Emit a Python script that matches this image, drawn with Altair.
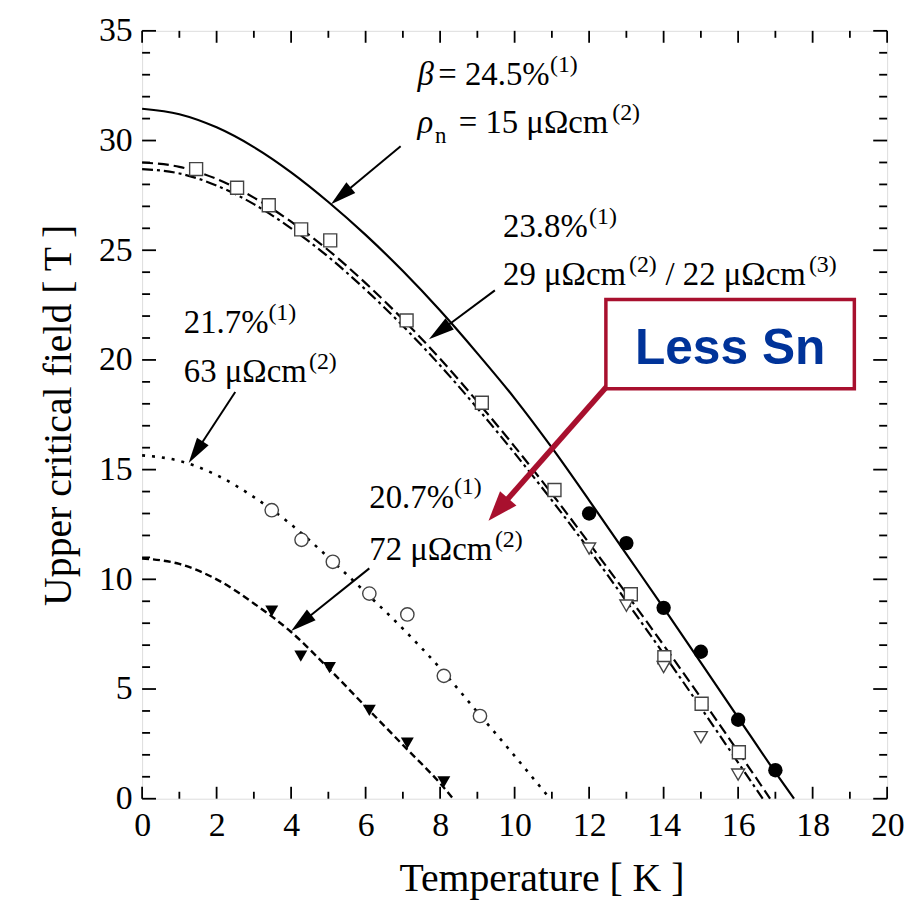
import math
import altair as alt
import pandas as pd

# ---------------- data ----------------
# fitted curves (Temperature K, Upper critical field T)
T_solid = [0, 1, 2, 3, 4, 5, 6, 7, 8, 9, 10, 11, 12, 13, 14, 15, 16, 17, 17.5]
H_solid = [31.45, 31.2, 30.6, 29.7, 28.55, 27.2, 25.7, 24.05, 22.25, 20.3, 18.25, 16.0, 13.6, 11.15, 8.7, 6.2, 3.7, 1.2, 0.0]

T_dash = [0, 1, 2, 3, 4, 5, 6, 7, 8, 9, 10, 11, 12, 13, 14, 15, 16, 16.86]
H_dash = [29.0, 28.8, 28.25, 27.4, 26.3, 25.0, 23.5, 21.85, 20.05, 18.1, 16.05, 13.9, 11.65, 9.35, 7.0, 4.6, 2.15, 0.0]

T_dashdot = [0, 1, 2, 3, 4, 5, 6, 7, 8, 9, 10, 11, 12, 13, 14, 15, 16, 16.66]
H_dashdot = [28.7, 28.5, 27.95, 27.1, 26.0, 24.7, 23.2, 21.55, 19.75, 17.8, 15.75, 13.6, 11.35, 9.0, 6.6, 4.15, 1.65, 0.0]

T_dot = [0, 1, 2, 3, 4, 5, 6, 7, 8, 9, 10, 10.95]
H_dot = [15.65, 15.4, 14.75, 13.75, 12.5, 11.0, 9.4, 7.75, 5.95, 3.95, 1.95, 0.0]

T_short = [0, 1, 2, 3, 4, 5, 6, 7, 8, 8.35]
H_short = [10.95, 10.7, 10.0, 8.9, 7.6, 5.95, 4.2, 2.45, 0.7, 0.0]

# measured points
T_fcirc = [12, 13, 14, 15, 16, 17]
H_fcirc = [13.0, 11.65, 8.7, 6.7, 3.6, 1.3]

T_otri = [12, 13, 14, 15, 16]
H_otri = [11.4, 8.8, 6.0, 2.8, 1.1]

T_osq = [1.45, 2.55, 3.4, 4.27, 5.05, 7.1, 9.12, 11.07, 13.12, 14.02, 15.02, 16.02]
H_osq = [28.7, 27.85, 27.05, 25.95, 25.45, 21.8, 18.05, 14.07, 9.32, 6.45, 4.33, 2.12]

T_ocirc = [3.48, 4.28, 5.12, 6.1, 7.12, 8.1, 9.07]
H_ocirc = [13.15, 11.8, 10.8, 9.35, 8.4, 5.6, 3.77]

T_ftri = [3.48, 4.26, 5.03, 6.1, 7.12, 8.1]
H_ftri = [8.55, 6.5, 5.98, 4.03, 2.53, 0.77]

# annotation arrows: tail (T, H) -> tip (T, H)
arrow_tail_T = [6.94, 9.47, 2.5, 6.1]
arrow_tail_H = [29.74, 23.17, 18.54, 10.5]
arrow_tip_T = [5.07, 7.7, 1.25, 4.0]
arrow_tip_H = [27.1, 20.94, 15.3, 7.64]

red_tail_T = [12.5]
red_tail_H = [18.84]
red_tip_T = [9.3]
red_tip_H = [12.67]

# "Less Sn" box
box_T = [12.45, 19.12]
box_H = [18.69, 22.75]

# text annotations
main_text = ["= 24.5%", "= 15 μΩcm", "23.8%", "29 μΩcm", "/ 22 μΩcm",
             "21.7%", "63 μΩcm", "20.7%", "72 μΩcm"]
main_T = [7.95, 8.5, 9.69, 9.69, 14.05, 1.12, 1.12, 6.1, 6.1]
main_H = [32.52, 30.34, 25.6, 23.42, 23.42, 21.24, 18.99, 13.27, 10.87]

greek_text = ["β", "ρ"]
greek_T = [7.39, 7.39]
greek_H = [32.52, 30.34]

sub_text = ["n"]
sub_T = [7.86]
sub_H = [29.9]

sup_text = ["(1)", "(2)", "(1)", "(2)", "(3)", "(1)", "(2)", "(1)", "(2)"]
sup_T = [10.95, 12.62, 12.0, 13.07, 17.9, 3.39, 4.48, 8.37, 9.47]
sup_H = [33.12, 30.94, 26.2, 24.02, 24.02, 21.84, 19.59, 13.87, 11.47]

x_major = list(range(0, 21, 2))
x_minor = list(range(1, 20, 2))
y_major = list(range(0, 36, 5))
y_minor = [v for v in range(0, 36) if v % 5]

# ---------------- chart ----------------
W, H = 750, 773
XMAX, YMAX = 20.0, 35.0
pxT, pxH = W / XMAX, H / YMAX
SERIF = "Liberation Serif"
RED = "#a8102e"

xs = alt.Scale(domain=[0, XMAX], nice=False, zero=False)
ys = alt.Scale(domain=[0, YMAX], nice=False, zero=False)

x_axis = alt.Axis(values=x_major, title="Temperature [ K ]", ticks=False, domain=False,
                  grid=False, labelFlush=False, labelFont=SERIF, labelFontSize=34,
                  labelColor="black", labelPadding=10, titleFont=SERIF,
                  titleFontSize=40, titleFontWeight="normal", titleColor="black",
                  titlePadding=16, titleX=402)
y_axis = alt.Axis(values=y_major, title="Upper critical field [ T ]", ticks=False,
                  domain=False, grid=False, labelFlush=False, labelFont=SERIF,
                  labelFontSize=34, labelColor="black", labelPadding=10,
                  titleFont=SERIF, titleFontSize=40, titleFontWeight="normal",
                  titleColor="black", titlePadding=20)


def X(f):
    return alt.X(f, type="quantitative", scale=xs, axis=x_axis)


def Y(f):
    return alt.Y(f, type="quantitative", scale=ys, axis=y_axis)


def curve(T, Hv, dash=None, width=2.2):
    df = pd.DataFrame({"T": T, "H": Hv})
    kw = dict(color="black", strokeWidth=width, interpolate="monotone")
    if dash:
        kw["strokeDash"] = dash
    return alt.Chart(df).mark_line(**kw).encode(x=X("T"), y=Y("H"))


layers = [
    curve(T_solid, H_solid),
    curve(T_dash, H_dash, [11, 5]),
    curve(T_dashdot, H_dashdot, [11, 4, 3, 4]),
    curve(T_dot, H_dot, [3, 7], width=2.6),
    curve(T_short, H_short, [7, 4], width=2.4),
]


# ticks (inward)
def tick_rules(vals, axis, length):
    df = pd.DataFrame({"v": vals})
    c = alt.Chart(df).mark_rule(color="black", strokeWidth=1.8)
    if axis == "bottom":
        return c.encode(x=X("v"), y=alt.value(H), y2=alt.value(H - length))
    if axis == "top":
        return c.encode(x=X("v"), y=alt.value(0), y2=alt.value(length))
    if axis == "left":
        return c.encode(y=Y("v"), x=alt.value(0), x2=alt.value(length))
    return c.encode(y=Y("v"), x=alt.value(W), x2=alt.value(W - length))


for side in ["bottom", "top"]:
    layers.append(tick_rules(x_major, side, 12))
    layers.append(tick_rules(x_minor, side, 7))
for side in ["left", "right"]:
    layers.append(tick_rules(y_major, side, 14))
    layers.append(tick_rules(y_minor, side, 8))


# markers
def pts(T, Hv, shape, size, filled, stroke="#444"):
    df = pd.DataFrame({"T": T, "H": Hv})
    if filled:
        m = alt.Chart(df).mark_point(shape=shape, size=size, filled=True, color="black", opacity=1)
    else:
        m = alt.Chart(df).mark_point(shape=shape, size=size, filled=True, fill="white",
                                     stroke=stroke, strokeWidth=1.4, opacity=1)
    return m.encode(x=X("T"), y=Y("H"))


layers += [
    pts(T_osq, H_osq, "square", 170, False),
    pts(T_otri, H_otri, "triangle-down", 170, False),
    pts(T_ocirc, H_ocirc, "circle", 180, False),
    pts(T_fcirc, H_fcirc, "circle", 210, True),
    pts(T_ftri, H_ftri, "triangle-down", 170, True),
]


# arrows
def arrows(tT, tH, pT, pH, color, width, head_len, head_half):
    rows = []
    for a, b, c, d in zip(tT, tH, pT, pH):
        dx = (c - a) * pxT
        dy = -(d - b) * pxH
        L = math.hypot(dx, dy)
        ang = math.degrees(math.atan2(dx, -dy)) % 360
        back = (head_len - 3) / L
        rows.append(dict(T0=a, H0=b, T1=c - (c - a) * back, H1=d - (d - b) * back,
                         Tt=c, Ht=d, ang=ang))
    df = pd.DataFrame(rows)
    shaft = alt.Chart(df).mark_rule(color=color, strokeWidth=width).encode(
        x=X("T0"), y=Y("H0"), x2="T1", y2="H1")
    unit = head_len / 2.0
    hw = head_half / unit
    path = f"M0,0L{hw:.3f},2L-{hw:.3f},2Z"
    head = alt.Chart(df).mark_point(shape=path, size=(2 * unit) ** 2, filled=True,
                                    color=color, opacity=1, strokeWidth=0).encode(
        x=X("Tt"), y=Y("Ht"), angle=alt.Angle("ang:Q", scale=None))
    return [shaft, head]


layers += arrows(arrow_tail_T, arrow_tail_H, arrow_tip_T, arrow_tip_H, "black", 2, 26, 7)
layers += arrows(red_tail_T, red_tail_H, red_tip_T, red_tip_H, RED, 5.5, 30, 11)

# box with "Less Sn"
box_df = pd.DataFrame({"T0": [box_T[0]], "T1": [box_T[1]], "H0": [box_H[0]], "H1": [box_H[1]]})
layers.append(alt.Chart(box_df).mark_rect(fill="white", stroke=RED, strokeWidth=3.5).encode(
    x=X("T0"), x2="T1", y=Y("H0"), y2="H1"))
layers.append(alt.Chart(pd.DataFrame({"T": [(box_T[0] + box_T[1]) / 2], "H": [19.8],
                                      "t": ["Less Sn"]})).mark_text(
    font="Liberation Sans", fontWeight="bold", fontSize=50, color="#003399",
    align="center", baseline="alphabetic").encode(x=X("T"), y=Y("H"), text="t:N"))


# text annotations
def texts(txt, T, Hv, size, italic=False):
    df = pd.DataFrame({"t": txt, "T": T, "H": Hv})
    kw = dict(font=SERIF, fontSize=size, color="black", align="left", baseline="alphabetic")
    if italic:
        kw["fontStyle"] = "italic"
    return alt.Chart(df).mark_text(**kw).encode(x=X("T"), y=Y("H"), text="t:N")


layers += [
    texts(main_text, main_T, main_H, 33),
    texts(greek_text, greek_T, greek_H, 33, italic=True),
    texts(sub_text, sub_T, sub_H, 23),
    texts(sup_text, sup_T, sup_H, 24),
]

chart = alt.layer(*layers).properties(
    width=W, height=H,
    autosize=alt.AutoSizeParams(type="none"),
    padding={"left": 135, "top": 20, "right": 20, "bottom": 104},
).configure_view(stroke="black", strokeWidth=2.2).configure(background="white")

chart.save("out.html", embed_options={"renderer": "svg", "actions": False})
